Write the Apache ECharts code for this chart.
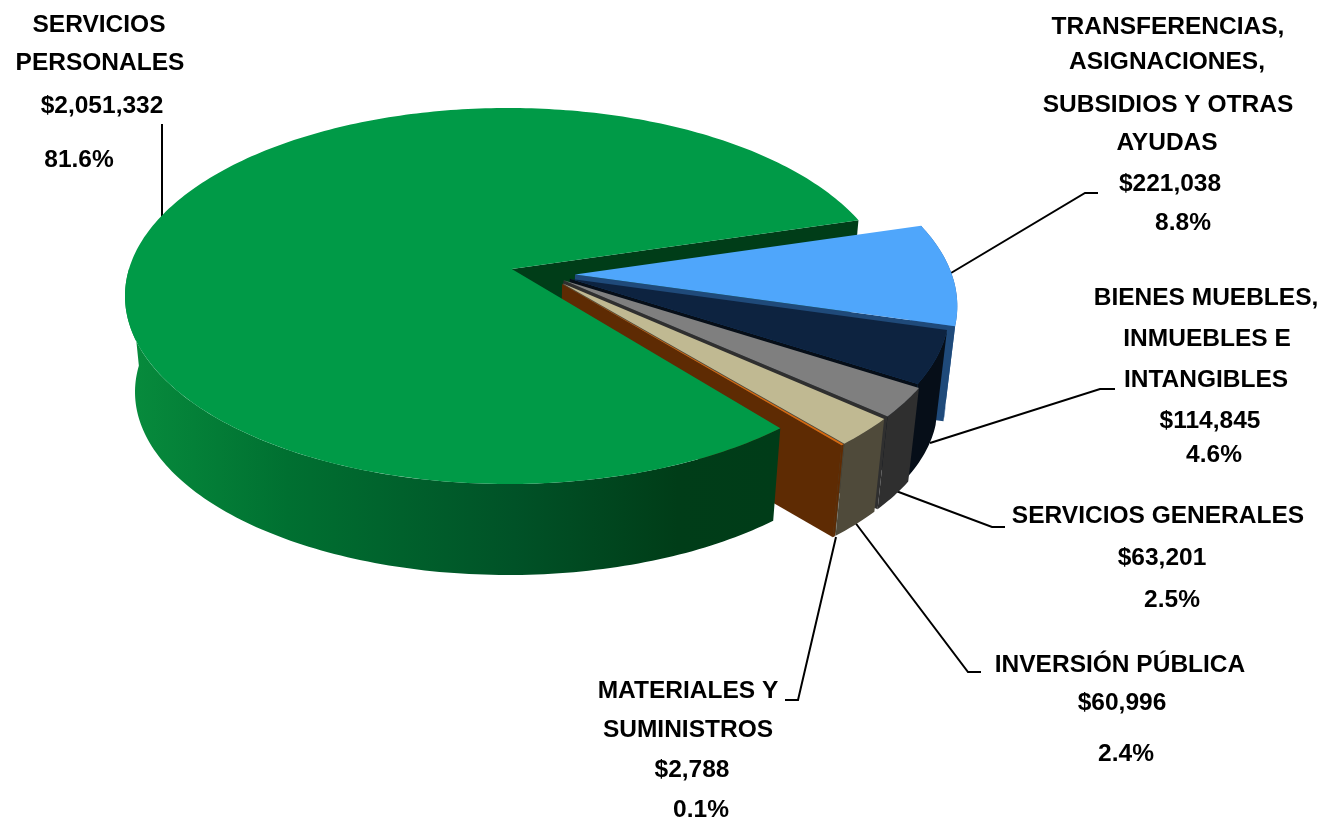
<!DOCTYPE html>
<html>
<head>
<meta charset="utf-8">
<title>Pie 3D</title>
<script src="https://cdn.jsdelivr.net/npm/echarts@6/dist/echarts.min.js"></script>
<style>
  html, body { margin: 0; padding: 0; background: #fff; }
  #chart { width: 1326px; height: 824px; }
</style>
</head>
<body>
<div id="chart"></div>
<script>
// data
var categories = ['SERVICIOS PERSONALES', 'TRANSFERENCIAS, ASIGNACIONES, SUBSIDIOS Y OTRAS AYUDAS',
  'BIENES MUEBLES, INMUEBLES E INTANGIBLES', 'SERVICIOS GENERALES', 'INVERSIÓN PÚBLICA', 'MATERIALES Y SUMINISTROS'];
var amounts = [2051332, 221038, 114845, 63201, 60996, 2788];
var percents = ['81.6%', '8.8%', '4.6%', '2.5%', '2.4%', '0.1%'];
// how each category name wraps in its label
var nameLines = [
  ['SERVICIOS', 'PERSONALES'],
  ['TRANSFERENCIAS,', 'ASIGNACIONES,', 'SUBSIDIOS Y OTRAS', 'AYUDAS'],
  ['BIENES MUEBLES,', 'INMUEBLES E', 'INTANGIBLES'],
  ['SERVICIOS GENERALES'],
  ['INVERSIÓN PÚBLICA'],
  ['MATERIALES Y', 'SUMINISTROS']
];

// colours per slice: top face, outer wall, cut wall
var topColors = ['#009a47', '#4fa6fb', '#0d2340', '#7f7f7f', '#c0b992', '#d9690f'];
var sideColors = [null, '#2b5f9e', '#060e18', '#2f2f2f', '#4f4a3a', '#5e2b03'];
var cutColors = ['#003d18', '#1f4a7a', '#060e18', '#2f2f2f', '#4f4a3a', '#5e2b03'];
// paint order, back to front; green goes last except for its far cut wall
var sliceZ = [100, 10, 20, 30, 40, 50];
// explosion of each slice in disc units, and the radius of each slice
var explode = [[0, 0], [0.176, 0.03], [0.162, 0.052], [0.145, 0.06], [0.143, 0.078], [0.141, 0.08]];
var radii = [1, 0.99, 0.98, 1, 0.99, 0.99];
var greenApexNudge = 0.01;
var startAngle = -16;

// projection of the flat disc: top and bottom rims are ellipses, tilt moves the centre back
var topRim = { cx: 508, cy: 296, rx: 383, ry: 188 };
var bottomRim = { cx: 508, cy: 392, rx: 373, ry: 183 };
var tilt = -0.1436;

// label lines: centre x and centre y of each line, top to bottom
var labelPos = [
  [[99, 25], [100, 63], [102, 106], [79, 160]],
  [[1168, 27], [1167, 62], [1168, 105], [1167, 143], [1170, 184], [1183, 223]],
  [[1206, 298], [1207, 339], [1206, 380], [1210, 421], [1214, 455]],
  [[1158, 516], [1162, 558], [1172, 600]],
  [[1120, 665], [1122, 703], [1126, 754]],
  [[688, 691], [688, 730], [692, 770], [701, 810]]
];
var leaders = [
  [[162, 124], [162, 218]],
  [[951, 273], [1085, 193], [1098, 193]],
  [[930, 443], [1100, 389], [1115, 389]],
  [[888, 488], [992, 527], [1005, 527]],
  [[854, 521], [968, 672], [981, 672]],
  [[836, 537], [798, 700], [785, 700]]
];

var total = amounts.reduce(function (a, b) { return a + b; }, 0);

function project(x, y, rim) {
  var d = 1 + tilt * y;
  var nx = x * Math.sqrt(1 - tilt * tilt) / d;
  var ny = (y + tilt) / d;
  return [rim.cx + nx * rim.rx, rim.cy + ny * rim.ry];
}

function rimPoint(angle, idx, rim) {
  var rad = angle * Math.PI / 180;
  var r = radii[idx];
  return project(r * Math.cos(rad) + explode[idx][0], r * Math.sin(rad) + explode[idx][1], rim);
}

function arc(from, to, idx, rim) {
  var pts = [];
  var steps = Math.max(2, Math.ceil(Math.abs(to - from)));
  for (var i = 0; i <= steps; i++) {
    pts.push(rimPoint(from + (to - from) * i / steps, idx, rim));
  }
  return pts;
}

function poly(points, fill, z2) {
  return { type: 'polygon', z2: z2, shape: { points: points }, style: { fill: fill } };
}

function sliceAngles(index) {
  // green is first in the data but sweeps on from the end of the others
  var before = 0;
  for (var i = 1; i < index; i++) before += amounts[i];
  if (index === 0) {
    var rest = total - amounts[0];
    return [startAngle + rest / total * 360, startAngle + 360];
  }
  var a0 = startAngle + before / total * 360;
  return [a0, a0 + amounts[index] / total * 360];
}

function renderSlice(params, api) {
  var idx = params.dataIndex;
  var angles = sliceAngles(idx);
  var a0 = angles[0], a1 = angles[1];
  var z = sliceZ[idx];
  var nudge = idx === 0 ? greenApexNudge : 0;
  var apexTop = project(explode[idx][0] + nudge, explode[idx][1], topRim);
  var apexBottom = project(explode[idx][0] + nudge, explode[idx][1], bottomRim);
  var children = [];

  if (idx === 0) {
    // far cut wall sits behind the other slices
    children.push(poly([apexTop, rimPoint(a1, 0, topRim), rimPoint(a1, 0, bottomRim), apexBottom], cutColors[0], 1));
    var wallEnd = 180;
    var wall = arc(a0, wallEnd, 0, topRim).concat(arc(wallEnd, a0, 0, bottomRim));
    var grad = new echarts.graphic.LinearGradient(125, 0, 775, 0, [
      { offset: 0, color: '#078c3d' },
      { offset: 0.25, color: '#007031' },
      { offset: 0.6, color: '#005227' },
      { offset: 0.85, color: '#003d18' },
      { offset: 1, color: '#003c18' }
    ], true);
    children.push(poly(wall, grad, z));
  } else {
    var side = arc(a0, a1, idx, topRim).concat(arc(a1, a0, idx, bottomRim));
    children.push(poly(side, sideColors[idx], z));
    children.push(poly([apexTop, rimPoint(a1, idx, topRim), rimPoint(a1, idx, bottomRim), apexBottom], cutColors[idx], z + 1));
  }
  children.push(poly([apexTop].concat(arc(a0, a1, idx, topRim)), topColors[idx], z + 2));
  return { type: 'group', children: children };
}

// labels and leader lines
var graphics = [];
categories.forEach(function (cat, i) {
  var lines = nameLines[i].concat(['$' + amounts[i].toLocaleString('en-US'), percents[i]]);
  lines.forEach(function (line, j) {
    graphics.push({
      type: 'text',
      x: labelPos[i][j][0],
      y: labelPos[i][j][1],
      style: {
        text: line,
        fill: '#000',
        font: 'bold 24.5px "Liberation Sans", Arial, sans-serif',
        align: 'center',
        verticalAlign: 'middle'
      }
    });
  });
  graphics.push({
    type: 'polyline',
    shape: { points: leaders[i] },
    style: { stroke: '#000', lineWidth: 2, fill: 'none' }
  });
});

var chart = echarts.init(document.getElementById('chart'));
chart.setOption({
  backgroundColor: '#fff',
  animation: false,
  graphic: graphics,
  series: [{
    type: 'custom',
    coordinateSystem: 'none',
    renderItem: renderSlice,
    data: amounts.map(function (v, i) { return { name: categories[i], value: v }; })
  }]
});
</script>
</body>
</html>
